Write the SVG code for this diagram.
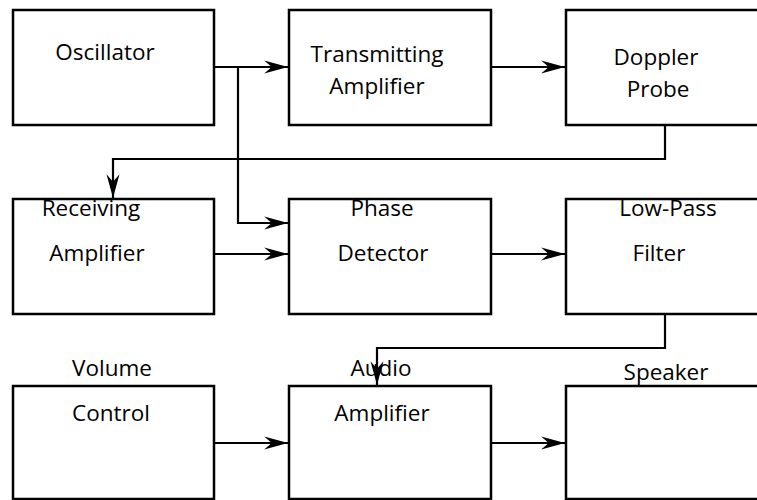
<svg xmlns="http://www.w3.org/2000/svg" width="757" height="500" viewBox="0 0 757 500">
<style>
.box{fill:#fff;stroke:#000;stroke-width:2.5}
.lbl{font-family:"Open Sans","Liberation Sans",sans-serif;font-size:22.5px;fill:#000;text-anchor:middle}
.wire{fill:none;stroke:#000;stroke-width:2.2}
.arr{marker-end:url(#ah)}
</style>
<defs>
<marker id="ah" markerUnits="userSpaceOnUse" markerWidth="26" markerHeight="16" viewBox="-23 -7 24 14" refX="0" refY="0" orient="auto">
<path d="M0,0 L-22,-6 L-15,0 L-22,6 Z" fill="#000"/>
</marker>
</defs>
<g id="oscillator"><rect class="box" x="13" y="10" width="201" height="115"/><text class="lbl" x="105" y="60">Oscillator</text></g>
<g id="transmitting-amplifier"><rect class="box" x="289" y="10" width="202" height="115"/><text class="lbl" x="377" y="62">Transmitting</text><text class="lbl" x="377" y="94">Amplifier</text></g>
<g id="doppler-probe"><rect class="box" x="566" y="10" width="200" height="115"/><text class="lbl" x="656" y="65">Doppler</text><text class="lbl" x="658" y="97">Probe</text></g>
<g id="receiving-amplifier"><rect class="box" x="13" y="199" width="201" height="115"/><text class="lbl" x="91" y="216">Receiving</text><text class="lbl" x="97" y="261">Amplifier</text></g>
<g id="phase-detector"><rect class="box" x="289" y="199" width="202" height="115"/><text class="lbl" x="382" y="216">Phase</text><text class="lbl" x="383" y="261">Detector</text></g>
<g id="low-pass-filter"><rect class="box" x="566" y="199" width="200" height="115"/><text class="lbl" x="668" y="216">Low-Pass</text><text class="lbl" x="659" y="261">Filter</text></g>
<g id="volume-control"><rect class="box" x="13" y="386" width="201" height="113"/><text class="lbl" x="112" y="376">Volume</text><text class="lbl" x="111" y="421">Control</text></g>
<g id="audio-amplifier"><rect class="box" x="289" y="386" width="202" height="113"/><text class="lbl" x="381" y="376">Audio</text><text class="lbl" x="382" y="421">Amplifier</text></g>
<g id="speaker"><rect class="box" x="566" y="386" width="200" height="113"/><text class="lbl" x="666" y="380">Speaker</text></g>
<g id="connectors">
<path class="wire arr" d="M214,67 L288,67"/>
<path class="wire arr" d="M238,67 L238,223 L288,223"/>
<path class="wire arr" d="M491,67 L565,67"/>
<path class="wire arr" d="M665,125 L665,159 L113,159 L113,198"/>
<path class="wire arr" d="M214,254 L288,254"/>
<path class="wire arr" d="M491,254 L565,254"/>
<path class="wire arr" d="M665,314 L665,348 L377,348 L377,385"/>
<path class="wire arr" d="M214,443 L288,443"/>
<path class="wire arr" d="M491,443 L565,443"/>
</g>
</svg>
